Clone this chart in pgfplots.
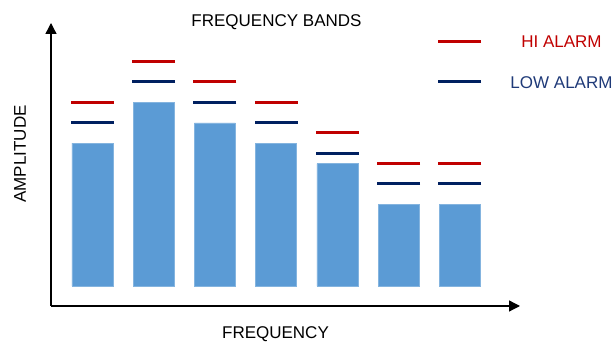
\documentclass[border=0pt]{standalone}
\usepackage{fontspec}
\setmainfont{Liberation Sans}
\usepackage{pgfplots}
\pgfplotsset{compat=1.18}
\usetikzlibrary{arrows.meta}

\definecolor{barblue}{HTML}{5B9BD5}
\definecolor{hired}{HTML}{C00000}
\definecolor{lowblue}{HTML}{002060}
\definecolor{lowtext}{HTML}{1F3A78}

\begin{document}
\begin{tikzpicture}[x=1pt,y=1pt]
\useasboundingbox (0,0) rectangle (614,342);
\begin{axis}[
  at={(51pt,36pt)}, anchor=south west,
  scale only axis, width=469pt, height=283pt,
  xmin=0.322, xmax=7.985, ymin=-0.98, ymax=12.89,
  axis x line=bottom, axis y line=left,
  axis line style={line width=1.3pt, black},
  x axis line style={-{Triangle[length=11pt,width=11pt]}},
  y axis line style={-{Triangle[length=11pt,width=11pt]}},
  xtick=\empty, ytick=\empty,
  clip=false,
  alarm/.style={only marks, mark=-, mark size=21.5pt,
    mark options={line width=3pt, draw=#1}},
]
% band amplitudes
\addplot[ybar, bar width=41pt, bar shift=0pt, fill=barblue, draw=barblue!75!white, line width=0.5pt]
  coordinates {(1,7) (2,9) (3,8) (4,7) (5,6) (6,4) (7,4)};
% high alarm levels
\addplot[alarm=hired]
  coordinates {(1,9) (2,11) (3,10) (4,9) (5,7.5) (6,6) (7,6)};
% low alarm levels
\addplot[alarm=lowblue]
  coordinates {(1,8) (2,10) (3,9) (4,8) (5,6.5) (6,5) (7,5)};
% key samples
\addplot[alarm=hired] coordinates {(7,12)};
\addplot[alarm=lowblue] coordinates {(7,10)};
\end{axis}
\begin{scope}[every node/.style={font=\fontsize{17}{20}\selectfont, inner sep=0pt}]
\node[anchor=base] at (276.5,315) {FREQUENCY BANDS};
\node[anchor=base, text=hired] at (561.5,294) {HI ALARM};
\node[anchor=base, text=lowtext] at (561.5,253) {LOW ALARM};
\node[anchor=base] at (275.5,3.5) {FREQUENCY};
\node[anchor=base, rotate=90] at (26,188) {AMPLITUDE};
\end{scope}
\end{tikzpicture}
\end{document}
